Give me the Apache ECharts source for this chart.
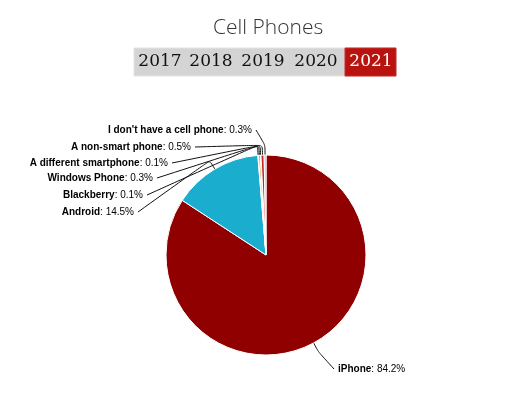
<!DOCTYPE html>
<html>
<head>
<meta charset="utf-8">
<script src="https://cdn.jsdelivr.net/npm/echarts@6/dist/echarts.min.js"></script>
<style>
html,body{margin:0;padding:0;background:#fff;}
#chart{width:517px;height:398px;}
</style>
</head>
<body>
<div id="chart"></div>
<script>
// ---- data ----
var categories = ["iPhone", "Android", "Blackberry", "Windows Phone", "A different smartphone", "A non-smart phone", "I don't have a cell phone"];
var shares = [84.2, 14.5, 0.1, 0.3, 0.1, 0.5, 0.3];
var years = ["2017", "2018", "2019", "2020", "2021"];
var activeYear = "2021";
var chartTitle = "Cell Phones";

// ---- styles / layout ----
var sliceColors = ["#910000", "#1aadce", "#f6dcc0", "#f28f43", "#f3e6da", "#c42525", "#b0b0b0"];
// label anchor [x, y, side] per slice (layout only)
var labelAnchors = [
  [338, 369, "left"],
  [134, 212, "right"],
  [143, 195, "right"],
  [153, 178, "right"],
  [168, 163, "right"],
  [191, 147, "right"],
  [252, 130, "right"]
];
var yearCenters = [160, 211, 263, 316, 371];

var chart = echarts.init(document.getElementById("chart"), null, {renderer: "canvas"});

var graphics = [
  {type: "rect", shape: {x: 134, y: 48, width: 262, height: 28}, style: {fill: "#d4d4d4", stroke: "#e4e4e4", lineWidth: 1}, silent: true}
];
years.forEach(function (yr, i) {
  if (yr === activeYear) {
    graphics.push({type: "rect", shape: {x: 345, y: 48, width: 51, height: 28}, style: {fill: "#b8130e", stroke: "#c9302a", lineWidth: 1}, silent: true});
  }
});
years.forEach(function (yr, i) {
  var active = yr === activeYear;
  graphics.push({
    type: "text", x: yearCenters[i], y: 62,
    style: {text: yr, fill: active ? "#ffffff" : "#111111", font: "17px 'DejaVu Serif'", align: "center", verticalAlign: "middle"},
    silent: true
  });
});

var data = categories.map(function (c, i) {
  return {name: c, value: shares[i], itemStyle: {color: sliceColors[i]}};
});

chart.setOption({
  animation: false,
  title: {
    text: chartTitle, left: 208, top: 13,
    textStyle: {fontFamily: "'Open Sans'", fontWeight: 300, fontSize: 21, color: "#333333"}
  },
  graphic: graphics,
  series: [{
    type: "pie",
    center: [266, 255],
    radius: 100,
    startAngle: 90,
    clockwise: true,
    avoidLabelOverlap: false,
    minShowLabelAngle: 0,
    data: data,
    itemStyle: {borderColor: "#ffffff", borderWidth: 1},
    label: {
      show: true,
      position: "outside",
      color: "#000",
      fontFamily: "'Liberation Sans', Arial, sans-serif",
      fontSize: 10,
      formatter: function (p) { return "{b|" + p.name + "}: " + p.value.toFixed(1) + "%"; },
      rich: {b: {fontWeight: "bold", fontSize: 10, color: "#000", fontFamily: "'Liberation Sans', Arial, sans-serif"}}
    },
    labelLine: {show: true, length: 10, length2: 10, smooth: 0.2, lineStyle: {color: "#111", width: 1}},
    emphasis: {disabled: true},
    labelLayout: function (params) {
      var a = labelAnchors[params.dataIndex];
      var pts = params.labelLinePoints;
      var end = a[2] === "right" ? [a[0] + 4, a[1]] : [a[0] - 4, a[1]];
      var res = {x: a[0], y: a[1], align: a[2] === "right" ? "right" : "left", verticalAlign: "middle", hideOverlap: false};
      if (pts && pts.length) {
        res.labelLinePoints = [pts[0], pts[1], end];
      }
      return res;
    }
  }]
});
</script>
</body>
</html>
